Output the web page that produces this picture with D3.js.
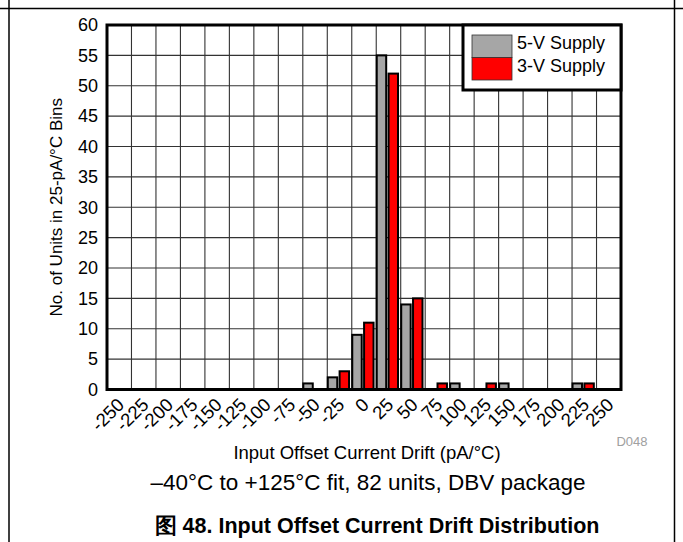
<!DOCTYPE html>
<html>
  <head>
    <meta charset="utf-8" />
    <title>Input Offset Current Drift Distribution</title>
    <script src="https://cdn.jsdelivr.net/npm/d3@7"></script>
    <style type="text/css">
      body { margin: 0; background: #fff; }
      svg text { font-family: Arial, "Liberation Sans", sans-serif; fill: #000; }
    </style>
  </head>

  <body>
    <svg id="chart" width="683" height="542"></svg>
    <script type="text/javascript">
      // bins (pA/°C) and counts per bin
      var bins = [-250, -225, -200, -175, -150, -125, -100, -75, -50, -25, 0, 25, 50, 75, 100, 125, 150, 175, 200, 225, 250];
      var supply5V = [0, 0, 0, 0, 0, 0, 0, 0, 1, 2, 9, 55, 14, 0, 1, 0, 1, 0, 0, 1, 0];
      var supply3V = [0, 0, 0, 0, 0, 0, 0, 0, 0, 3, 11, 52, 15, 1, 0, 1, 0, 0, 0, 1, 0];
      var seriesNames = ['5-V Supply', '3-V Supply'];
      var seriesColors = ['#a6a6a6', '#ff0000'];
      var yTicks = d3.range(0, 61, 5);

      var svg = d3.select('#chart');
      // note: "top" is reserved on window, so use pl/pr/pt/pb
      var pl = 107, pr = 621, pt = 25, pb = 389.5;

      // outer frame
      svg.append('line').attr('x1', 0).attr('x2', 683).attr('y1', 8.5).attr('y2', 8.5)
        .attr('stroke', '#000').attr('stroke-width', 1.5);
      svg.append('line').attr('x1', 9).attr('x2', 9).attr('y1', 0).attr('y2', 542)
        .attr('stroke', '#000').attr('stroke-width', 1.5);
      svg.append('line').attr('x1', 674.5).attr('x2', 674.5).attr('y1', 0).attr('y2', 542)
        .attr('stroke', '#000').attr('stroke-width', 1.5);

      var x = d3.scaleBand().domain(bins).range([pl, pr]);
      var bw = x.bandwidth();
      var x1 = d3.scaleBand().domain(seriesNames).range([0.5, bw - 2.7]).paddingInner(0.2);
      var y = d3.scaleLinear().domain([0, 60]).range([pb, pt]);

      // grid
      var grid = svg.append('g');
      grid.selectAll('.gx').data(bins.slice(1)).enter().append('line')
        .attr('x1', (d) => x(d)).attr('x2', (d) => x(d))
        .attr('y1', pt).attr('y2', pb)
        .attr('stroke', '#333').attr('stroke-width', 1.1);
      grid.selectAll('.gy').data(yTicks.slice(1, -1)).enter().append('line')
        .attr('x1', pl).attr('x2', pr)
        .attr('y1', (d) => y(d)).attr('y2', (d) => y(d))
        .attr('stroke', '#333').attr('stroke-width', 1.1);

      // bars
      var rows = bins.map((b, i) => ({ bin: b, vals: [supply5V[i], supply3V[i]] }));
      var g = svg.selectAll('.bin').data(rows).enter().append('g')
        .attr('transform', (d) => 'translate(' + x(d.bin) + ',0)');
      g.selectAll('rect')
        .data((d) => d.vals.map((v, k) => ({ v: v, k: k })).filter((e) => e.v > 0))
        .enter().append('rect')
        .attr('x', (d) => x1(seriesNames[d.k]))
        .attr('width', x1.bandwidth())
        .attr('y', (d) => y(d.v))
        .attr('height', (d) => y(0) - y(d.v))
        .attr('fill', (d) => seriesColors[d.k])
        .attr('stroke', '#000').attr('stroke-width', 2);

      // plot border
      svg.append('rect').attr('x', pl).attr('y', pt)
        .attr('width', pr - pl).attr('height', pb - pt)
        .attr('fill', 'none').attr('stroke', '#000').attr('stroke-width', 3);

      // y axis labels
      svg.selectAll('.yl').data(yTicks).enter().append('text')
        .attr('x', 98).attr('y', (d) => y(d)).attr('dy', '0.35em')
        .attr('text-anchor', 'end').style('font-size', '18px')
        .text((d) => d);

      // x axis labels
      svg.selectAll('.xl').data(bins).enter().append('text')
        .attr('transform', (d) => 'translate(' + (x(d) + bw / 2 + 6) + ',406) rotate(-45)')
        .attr('text-anchor', 'end').style('font-size', '18.5px')
        .text((d) => d);

      // titles
      svg.append('text').attr('transform', 'translate(62,' + (pt + pb) / 2 + ') rotate(-90)')
        .attr('text-anchor', 'middle').style('font-size', '17px')
        .text('No. of Units in 25-pA/°C Bins');
      svg.append('text').attr('x', 367).attr('y', 459).attr('text-anchor', 'middle')
        .style('font-size', '18.5px').text('Input Offset Current Drift (pA/°C)');
      svg.append('text').attr('x', 632).attr('y', 446).attr('text-anchor', 'middle')
        .style('font-size', '13px').style('fill', '#a0a0a0').text('D048');
      svg.append('text').attr('x', 368).attr('y', 490).attr('text-anchor', 'middle')
        .style('font-size', '22.5px').text('–40°C to +125°C fit, 82 units, DBV package');
      svg.append('text').attr('x', 377).attr('y', 533).attr('text-anchor', 'middle')
        .style('font-size', '21.5px').style('font-weight', 'bold')
        .text('图 48. Input Offset Current Drift Distribution');

      // legend
      var lg = svg.append('g');
      lg.append('rect').attr('x', 463).attr('y', pt).attr('width', pr - 463).attr('height', 65)
        .attr('fill', '#fff').attr('stroke', '#000').attr('stroke-width', 3);
      seriesNames.forEach(function (name, k) {
        lg.append('rect').attr('x', 472).attr('y', 35 + k * 22.5).attr('width', 40).attr('height', 22.5)
          .attr('fill', seriesColors[k]).attr('stroke', '#333').attr('stroke-width', 0.8);
        lg.append('text').attr('x', 517).attr('y', 48.5 + k * 23.2)
          .style('font-size', '18px').text(name);
      });
    </script>
  </body>
</html>
